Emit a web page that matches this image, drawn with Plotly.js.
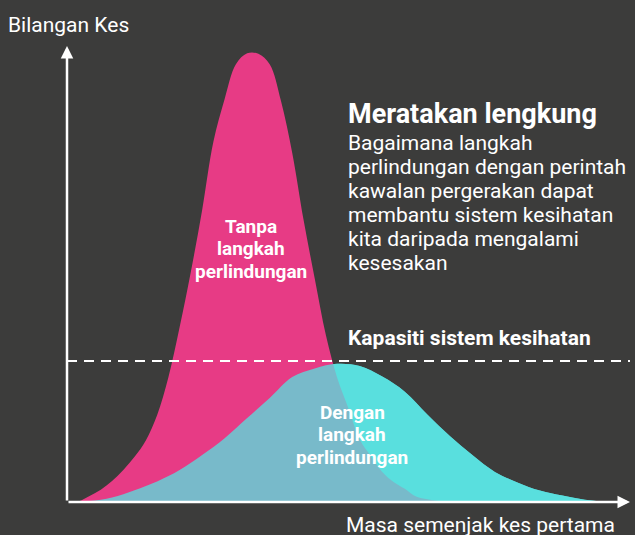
<!DOCTYPE html>
<html>
<head>
<meta charset="utf-8">
<script src="https://cdn.plot.ly/plotly-3.0.1.min.js"></script>
<style>html,body{margin:0;padding:0;background:#3c3c3b;}</style>
</head>
<body>
<div id="chart" style="width:635px;height:535px;"></div>
<script>
// Time since first case (arbitrary units)
const timeWithout = [0,2,4,6,8,10,12,14,16,18,20,22,24,26,28,30,32,34,36,38,40,42,44,46,48,50,52,54,56,58,60,62,64,66,68,70];
// Cases without protective measures
const casesWithout = [0,0.1,1.3,2.7,4.6,7.0,9.9,13.5,19.0,27.3,38.3,50.5,64,79,88.4,96,98.4,98.3,96,88,76.6,62,49,36.5,27.2,20.5,13.7,10.0,6.6,4.4,2.9,1.2,0.6,0.2,0.05,0];
const timeWith = [0,4,8,12,16,20,24,28,32,36,40,44,48,52,56,60,64,68,72,76,80,84,88,92,96,100];
// Cases with protective measures
const casesWith = [0,0.2,1.0,2.6,4.5,7.0,10.3,14.0,18.4,22.8,27.4,29.3,30.3,29.8,27.5,24.2,19.2,14.5,10.3,6.6,4.3,2.5,1.4,0.5,0.1,0];
// Health system capacity
const capacity = 30.9;

const title = "Meratakan lengkung";
const bodyLines = ["Bagaimana langkah","perlindungan dengan perintah","kawalan pergerakan dapat","membantu sistem kesihatan","kita daripada mengalami","kesesakan"];
const capacityLabel = "Kapasiti sistem kesihatan";
const yLabel = "Bilangan Kes";
const xLabel = "Masa semenjak kes pertama";
const labelWithout = ["Tanpa","langkah","perlindungan"];
const labelWith = ["Dengan","langkah","perlindungan"];

const PINK = "#e73b85", CYAN = "#5de1de";
const FONT = "Roboto, 'Open Sans', sans-serif";

const traces = [
  {x: timeWith, y: casesWith, type:"scatter", mode:"lines", fill:"tozeroy",
   fillcolor: CYAN, line:{width:0, shape:"spline", smoothing:1}, hoverinfo:"skip"},
  {x: timeWithout, y: casesWithout, type:"scatter", mode:"lines", fill:"tozeroy",
   fillcolor: PINK, line:{width:0, shape:"spline", smoothing:1}, hoverinfo:"skip"},
  {x: timeWith, y: casesWith, type:"scatter", mode:"lines", fill:"tozeroy",
   fillcolor: "rgba(88,222,222,0.78)", line:{width:0, shape:"spline", smoothing:1}, hoverinfo:"skip"}
];

// pixel helpers for text placement (plot area: x 67..630, y 46..502)
const W = 635, H = 535, L = 67, R = 5, T = 46, B = 33;
const px = v => (v - L) / (W - L - R);
const py = v => (H - B - v) / (H - T - B);

const ann = [];
ann.push({xref:"paper", yref:"paper", x:px(6), y:py(25), xanchor:"left", yanchor:"middle",
  text:yLabel, showarrow:false, font:{family:FONT, size:21, color:"#ffffff"}});
ann.push({xref:"paper", yref:"paper", x:px(617), y:py(525), xanchor:"right", yanchor:"middle",
  text:xLabel, showarrow:false, font:{family:FONT, size:21, color:"#ffffff"}});
ann.push({xref:"paper", yref:"paper", x:px(346), y:py(114), xanchor:"left", yanchor:"middle",
  text:"<b>"+title+"</b>", showarrow:false, font:{family:FONT, size:27, color:"#ffffff"}});
bodyLines.forEach((t,i)=>{
  ann.push({xref:"paper", yref:"paper", x:px(346), y:py(143+24*i), xanchor:"left", yanchor:"middle",
    text:t, showarrow:false, font:{family:FONT, size:21, color:"#ffffff"}});
});
ann.push({xref:"paper", yref:"paper", x:px(346), y:py(338), xanchor:"left", yanchor:"middle",
  text:"<b>"+capacityLabel+"</b>", showarrow:false, font:{family:FONT, size:21, color:"#ffffff"}});
labelWithout.forEach((t,i)=>{
  ann.push({xref:"paper", yref:"paper", x:px(251), y:py(226+22.5*i), xanchor:"center", yanchor:"middle",
    text:"<b>"+t+"</b>", showarrow:false, font:{family:FONT, size:19, color:"#ffffff"}});
});
labelWith.forEach((t,i)=>{
  ann.push({xref:"paper", yref:"paper", x:px(352), y:py(412+22.5*i), xanchor:"center", yanchor:"middle",
    text:"<b>"+t+"</b>", showarrow:false, font:{family:FONT, size:19, color:"#ffffff"}});
});
// axes with arrows
ann.push({xref:"x", yref:"y", axref:"x", ayref:"y", x:100, y:0, ax:0, ay:0, text:"",
  showarrow:true, arrowhead:2, arrowsize:1, arrowwidth:2.5, arrowcolor:"#ffffff", standoff:0});
ann.push({xref:"x", yref:"y", axref:"x", ayref:"y", x:0, y:100, ax:0, ay:0, text:"",
  showarrow:true, arrowhead:2, arrowsize:1, arrowwidth:2.5, arrowcolor:"#ffffff", standoff:0});

const layout = {
  width: W, height: H,
  margin: {l:L, r:R, t:T, b:B, pad:0},
  paper_bgcolor: "#3c3c3b", plot_bgcolor: "#3c3c3b",
  showlegend: false,
  xaxis: {range:[0,100], visible:false, fixedrange:true},
  yaxis: {range:[0,100], visible:false, fixedrange:true},
  shapes: [
    {type:"line", xref:"paper", yref:"y", x0:0, x1:1, y0:capacity, y1:capacity,
     line:{color:"#ffffff", width:2, dash:"10px,7px"}}
  ],
  annotations: ann
};

Plotly.newPlot("chart", traces, layout, {displayModeBar:false, staticPlot:true});
</script>
</body>
</html>
